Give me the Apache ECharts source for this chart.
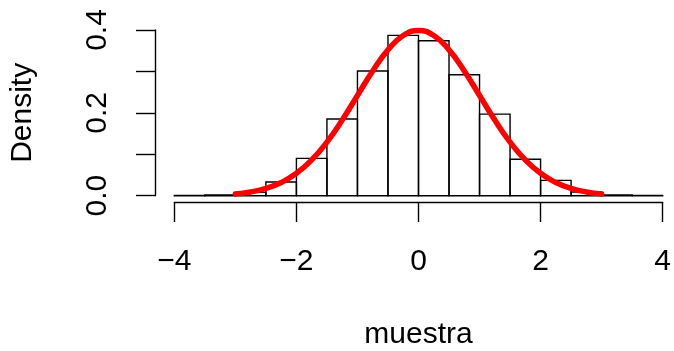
<!DOCTYPE html>
<html>
<head>
<meta charset="utf-8">
<script src="https://cdn.jsdelivr.net/npm/echarts@6/dist/echarts.min.js"></script>
<style>
html,body{margin:0;padding:0;background:#fff;}
#c{width:674px;height:351px;}
</style>
</head>
<body>
<div id="c"></div>
<script>
// Histogram bins (edges) and densities
var binStarts = [-4, -3.5, -3, -2.5, -2, -1.5, -1, -0.5, 0, 0.5, 1, 1.5, 2, 2.5, 3, 3.5];
var binEnds   = [-3.5, -3, -2.5, -2, -1.5, -1, -0.5, 0, 0.5, 1, 1.5, 2, 2.5, 3, 3.5, 4];
var densities = [0.0006, 0.002, 0.008, 0.033, 0.090, 0.185, 0.301, 0.387, 0.374, 0.292, 0.197, 0.088, 0.037, 0.009, 0.002, 0.0006];

// Red density curve points
var curveX = [-3, -2.75, -2.5, -2.25, -2, -1.75, -1.5, -1.25, -1, -0.75, -0.5, -0.25, 0,
              0.25, 0.5, 0.75, 1, 1.25, 1.5, 1.75, 2, 2.25, 2.5, 2.75, 3];
var curveY = [0.0044, 0.0091, 0.0175, 0.0317, 0.054, 0.0863, 0.1295, 0.1826, 0.242, 0.3011, 0.3521, 0.3867, 0.3989,
              0.3867, 0.3521, 0.3011, 0.242, 0.1826, 0.1295, 0.0863, 0.054, 0.0317, 0.0175, 0.0091, 0.0044];

var xTicks = [-4, -2, 0, 2, 4];
var yLabelled = ['0.0', '0.2', '0.4'];
var xName = 'muestra';
var yName = 'Density';

var FONT = '"Liberation Sans", Arial, Helvetica, sans-serif';

var histData = binStarts.map(function (s, i) { return [s, binEnds[i], densities[i]]; });
var curveData = curveX.map(function (x, i) { return [x, curveY[i]]; });

var chart = echarts.init(document.getElementById('c'), null, {renderer: 'canvas'});
chart.setOption({
  animation: false,
  backgroundColor: '#ffffff',
  grid: {left: 173.33, right: 9, top: 30, bottom: 155, containLabel: false},
  xAxis: {
    type: 'value', min: xTicks[0], max: xTicks[xTicks.length - 1], interval: 2,
    position: 'bottom', offset: 6.3,
    name: xName, nameLocation: 'middle', nameGap: 118,
    nameTextStyle: {fontFamily: FONT, fontSize: 30, color: '#000', lineHeight: 30, verticalAlign: 'top'},
    axisLine: {show: true, onZero: false, lineStyle: {color: '#000', width: 1.4}},
    axisTick: {show: true, length: 20, lineStyle: {color: '#000', width: 1.4}},
    axisLabel: {
      show: true, margin: 45, fontFamily: FONT, fontSize: 30, color: '#000', lineHeight: 30,
      formatter: function (v) { return v < 0 ? '\u2212' + Math.abs(v) : String(v); }
    },
    splitLine: {show: false}
  },
  yAxis: {
    type: 'value', min: 0, max: 0.4, interval: 0.1,
    position: 'left', offset: 19.33,
    name: yName, nameLocation: 'middle', nameGap: 117, nameRotate: 90,
    nameTextStyle: {fontFamily: FONT, fontSize: 30, color: '#000', lineHeight: 30},
    axisLine: {show: true, onZero: false, lineStyle: {color: '#000', width: 1.4}},
    axisTick: {show: true, length: 19, lineStyle: {color: '#000', width: 1.4}},
    axisLabel: {
      show: true, rotate: 90, margin: 42, fontFamily: FONT, fontSize: 30, color: '#000', lineHeight: 30,
      formatter: function (v) {
        var s = v.toFixed(1);
        return yLabelled.indexOf(s) >= 0 ? s : '';
      }
    },
    splitLine: {show: false}
  },
  series: [
    {
      type: 'custom',
      clip: false,
      data: histData,
      encode: {x: [0, 1], y: 2},
      renderItem: function (params, api) {
        var p0 = api.coord([api.value(0), 0]);
        var p1 = api.coord([api.value(1), api.value(2)]);
        return {
          type: 'rect',
          shape: {x: p0[0], y: p1[1], width: p1[0] - p0[0], height: p0[1] - p1[1]},
          style: {fill: 'rgba(255,255,255,0)', stroke: '#000', lineWidth: 1.4}
        };
      },
      z: 2
    },
    {
      type: 'line',
      data: curveData,
      smooth: true,
      showSymbol: false,
      clip: false,
      lineStyle: {color: '#ff0000', width: 5.5, cap: 'round', join: 'round'},
      z: 3
    }
  ]
});
</script>
</body>
</html>
